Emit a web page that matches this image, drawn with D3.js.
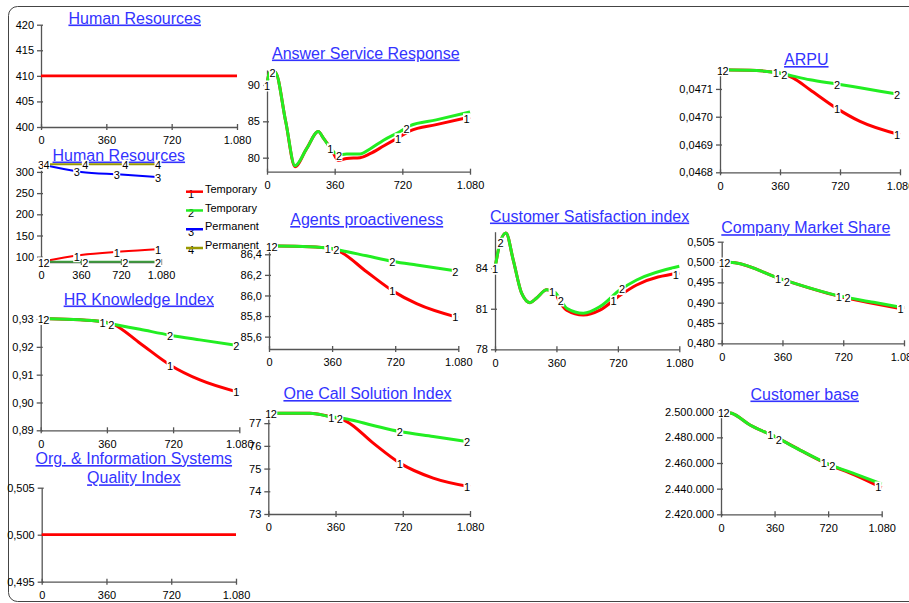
<!DOCTYPE html>
<html>
<head>
<meta charset="utf-8">
<script src="https://cdn.jsdelivr.net/npm/d3@7"></script>
<style>
  body { margin: 0; background: #fff; }
  text { font-family: "Liberation Sans", Arial, sans-serif; }
</style>
</head>
<body>
<svg id="chart" width="909" height="603"></svg>
<script>
// ---- data (days on x) ----
const xTicks = [0, 360, 720, 1080];

// Human Resources (total)
const hr1Days = [0, 1080];
const hr1Total = [410, 410];
const hr1YTicks = [400, 405, 410, 415, 420];

// Human Resources (by type)
const hr2Days = [0, 360, 720, 1080];
const hr2Temp1 = [88, 104, 112, 118];
const hr2Temp2 = [88, 88, 88, 88];
const hr2Perm3 = [318, 300, 294, 287];
const hr2Perm4 = [318, 318, 318, 318];
const hr2Names = ["Temporary", "Temporary", "Permanent", "Permanent"];
const hr2YTicks = [100, 150, 200, 250, 300];

// Answer Service Response
const asrDays = [0, 12, 43, 100, 149, 210, 273, 300, 344, 380, 424, 495, 548, 620, 708, 761, 900, 1080];
const asr1 = [90.0, 91.7, 91.8, 84.9, 78.75, 81.2, 83.6, 82.7, 81.1, 79.6, 79.9, 80.0, 80.55, 81.6, 82.9, 83.7, 84.55, 85.6];
const asr2 = [90.0, 91.7, 91.8, 84.9, 78.9, 81.2, 83.6, 82.7, 81.1, 80.4, 80.5, 80.5, 81.2, 82.4, 83.6, 84.4, 85.2, 86.3];
const asrYTicks = [80, 85, 90];

// ARPU
const arpuDays = [0, 220, 360, 440, 540, 700, 840, 1080];
const arpu1 = [0.047169, 0.047166, 0.047157, 0.047139, 0.047097, 0.04703, 0.046983, 0.046935];
const arpu2 = [0.047169, 0.047166, 0.047157, 0.047146, 0.047133, 0.047118, 0.047104, 0.04708];
const arpuYTicks = [0.0468, 0.0469, 0.0470, 0.0471];

// Agents proactiveness
const agDays = [0, 328, 405, 557, 710, 842, 1080];
const ag1 = [86.483, 86.464, 86.425, 86.23, 86.04, 85.92, 85.785];
const ag2 = [86.483, 86.464, 86.44, 86.385, 86.33, 86.295, 86.235];
const agYTicks = [85.6, 85.8, 86.0, 86.2, 86.4];

// Customer Satisfaction index
const csiDays = [0, 29, 64, 107, 156, 205, 244, 303, 352, 371, 420, 518, 615, 733, 830, 1080];
const csi1 = [84.0, 85.85, 86.6, 84.6, 82.15, 81.45, 81.8, 82.4, 82.2, 81.7, 80.9, 80.54, 80.9, 82.0, 82.76, 83.65];
const csi2 = [84.0, 85.85, 86.6, 84.6, 82.15, 81.45, 81.8, 82.4, 82.2, 81.9, 81.04, 80.67, 81.16, 82.4, 83.13, 84.15];
const csiYTicks = [78, 81, 84];

// Company Market Share
const cmsDays = [0, 79, 345, 701, 900, 1080];
const cms1 = [0.5, 0.4998, 0.4959, 0.4915, 0.4898, 0.4884];
const cms2 = [0.5, 0.4998, 0.4959, 0.4916, 0.4901, 0.4887];
const cmsYTicks = [0.480, 0.485, 0.490, 0.495, 0.500, 0.505];

// HR Knowledge Index
const hrkDays = [0, 305, 395, 540, 703, 866, 1080];
const hrk1 = [0.9302, 0.9293, 0.9281, 0.9213, 0.9135, 0.9081, 0.9036];
const hrk2 = [0.9302, 0.9293, 0.9281, 0.9263, 0.9242, 0.9225, 0.9204];
const hrkYTicks = [0.89, 0.90, 0.91, 0.92, 0.93];

// One Call Solution Index
const ocDays = [0, 223, 330, 420, 562, 705, 883, 1080];
const oc1 = [77.44, 77.44, 77.29, 77.07, 76.12, 75.24, 74.58, 74.2];
const oc2 = [77.44, 77.44, 77.29, 77.18, 76.9, 76.63, 76.41, 76.17];
const ocYTicks = [73, 74, 75, 76, 77];

// Customer base
const cbDays = [0, 72, 195, 363, 531, 710, 900, 1080];
const cb1 = [2500000, 2498750, 2489600, 2480500, 2470100, 2459500, 2450600, 2440800];
const cb2 = [2500000, 2498750, 2489600, 2480500, 2470100, 2459750, 2451500, 2443600];
const cbYTicks = [2420000, 2440000, 2460000, 2480000, 2500000];

// Org. & Information Systems Quality Index
const oisDays = [0, 1080];
const ois1 = [0.5, 0.5];
const oisYTicks = [0.495, 0.500, 0.505];

// ---- layout ----
const RED = "#ff0000", GREEN = "#22ee22", BLUE = "#0000ff", OLIVE = "#999900";
const loc = d3.formatLocale({decimal: ",", thousands: ".", grouping: [3], currency: ["", ""]});

const panels = [
  {title: ["Human Resources"], tx: 134.7, ty: 23.5, x0: 41, x1: 237, yb: 127, yt: 24.7,
   dom: [400, 420], yTicks: hr1YTicks, fmt: "d", days: hr1Days, lw: 2.7, labels: false,
   series: [{v: hr1Total, c: RED}]},
  {title: ["Human Resources"], tx: 118.8, ty: 160.5, x0: 41, x1: 161, yb: 262, yt: 163,
   dom: [87.5, 321], yTicks: hr2YTicks, fmt: "d", days: hr2Days, lw: 2, labels: true,
   series: [{v: hr2Temp1, c: RED}, {v: hr2Temp2, c: "#3c9c3c"}, {v: hr2Perm3, c: BLUE}, {v: hr2Perm4, c: OLIVE}]},
  {title: ["Answer Service Response"], tx: 365.8, ty: 58.5, x0: 267, x1: 470, yb: 171.7, yt: 70,
   dom: [78.07, 92.06], yTicks: asrYTicks, fmt: "d", days: asrDays, lw: 3, labels: true,
   series: [{v: asr1, c: RED}, {v: asr2, c: GREEN}]},
  {title: ["ARPU"], tx: 806.3, ty: 65, x0: 720, x1: 900, yb: 172.3, yt: 66.7,
   dom: [0.0468, 0.04718], yTicks: arpuYTicks, fmt: ".4f", days: arpuDays, lw: 3, labels: true,
   series: [{v: arpu1, c: RED}, {v: arpu2, c: GREEN}]},
  {title: ["Agents proactiveness"], tx: 366.7, ty: 225, x0: 269, x1: 458.3, yb: 349, yt: 244,
   dom: [85.48, 86.5], yTicks: agYTicks, fmt: ".1f", days: agDays, lw: 3, labels: true,
   series: [{v: ag1, c: RED}, {v: ag2, c: GREEN}]},
  {title: ["Customer Satisfaction index"], tx: 589.6, ty: 221.5, x0: 495, x1: 679.3, yb: 349.3, yt: 231.7,
   dom: [78, 86.7], yTicks: csiYTicks, fmt: "d", days: csiDays, lw: 3, labels: true,
   series: [{v: csi1, c: RED}, {v: csi2, c: GREEN}]},
  {title: ["Company Market Share"], tx: 805.8, ty: 233.2, x0: 721.7, x1: 904, yb: 343.3, yt: 241.7,
   dom: [0.48, 0.505], yTicks: cmsYTicks, fmt: ".3f", days: cmsDays, lw: 3, labels: true,
   series: [{v: cms1, c: RED}, {v: cms2, c: GREEN}]},
  {title: ["HR Knowledge Index"], tx: 138.8, ty: 304.5, x0: 40.7, x1: 239.3, yb: 430.3, yt: 316.8,
   dom: [0.89, 0.9308], yTicks: hrkYTicks, fmt: ".2f", days: hrkDays, lw: 3, labels: true,
   series: [{v: hrk1, c: RED}, {v: hrk2, c: GREEN}]},
  {title: ["One Call Solution Index"], tx: 367.5, ty: 399, x0: 268.3, x1: 470, yb: 514, yt: 408.4,
   dom: [73, 77.65], yTicks: ocYTicks, fmt: "d", days: ocDays, lw: 3, labels: true,
   series: [{v: oc1, c: RED}, {v: oc2, c: GREEN}]},
  {title: ["Customer base"], tx: 804.7, ty: 399.5, x0: 721, x1: 881.7, yb: 514.3, yt: 409.4,
   dom: [2420000, 2501800], yTicks: cbYTicks, fmt: ",d", days: cbDays, lw: 3, labels: true,
   series: [{v: cb1, c: RED}, {v: cb2, c: GREEN}]},
  {title: ["Org. & Information Systems", "Quality Index"], tx: 133.8, ty: 464, x0: 41.7, x1: 236, yb: 581.7, yt: 487.7,
   dom: [0.495, 0.505], yTicks: oisYTicks, fmt: ".3f", days: oisDays, lw: 2.7, labels: false,
   series: [{v: ois1, c: RED}]}
];

const svg = d3.select("#chart");

// outer frame
svg.append("rect")
  .attr("x", 8.5).attr("y", 6.5).attr("width", 960).attr("height", 595).attr("rx", 9)
  .attr("fill", "none").attr("stroke", "#444").attr("stroke-width", 1);

function valueAt(days, vals, d) {
  if (d <= days[0]) return vals[0];
  if (d >= days[days.length - 1]) return vals[vals.length - 1];
  const i = d3.bisectRight(days, d);
  const t = (d - days[i - 1]) / (days[i] - days[i - 1]);
  return vals[i - 1] + t * (vals[i] - vals[i - 1]);
}

panels.forEach(function(p) {
  const x = d3.scaleLinear().domain([0, 1080]).range([p.x0, p.x1]);
  const y = d3.scaleLinear().domain(p.dom).range([p.yb, p.yt]);
  const g = svg.append("g");

  // title
  const t = g.append("text")
    .attr("x", p.tx).attr("y", p.ty)
    .attr("text-anchor", "middle")
    .attr("font-size", 16)
    .attr("fill", "#3333ff")
    .style("text-decoration", "underline");
  p.title.forEach(function(s, i) {
    t.append("tspan").attr("x", p.tx).attr("dy", i ? 19.3 : 0).text(s);
  });

  // axes
  const ya = g.append("g")
    .attr("transform", "translate(" + p.x0 + ",0)")
    .call(d3.axisLeft(y).tickValues(p.yTicks).tickSizeInner(4).tickSizeOuter(0)
      .tickPadding(3).tickFormat(loc.format(p.fmt)));
  ya.selectAll(".tick line").attr("x1", 2);

  const xa = g.append("g")
    .attr("transform", "translate(0," + p.yb + ")")
    .call(d3.axisBottom(x).tickValues(xTicks).tickSizeInner(3).tickSizeOuter(0)
      .tickPadding(6.5).tickFormat(loc.format(",d")));
  xa.selectAll(".tick line").attr("y1", -3);

  [ya, xa].forEach(function(a) {
    a.attr("color", "#555").attr("font-size", 11)
      .attr("font-family", "'Liberation Sans', Arial, sans-serif");
    a.selectAll("path, line").attr("stroke-width", 1.3);
    a.selectAll("text").attr("fill", "#000");
  });

  // series lines
  const line = d3.line()
    .x(function(d) { return x(d[0]); })
    .y(function(d) { return y(d[1]); })
    .curve(d3.curveMonotoneX);

  p.series.forEach(function(s) {
    g.append("path")
      .datum(p.days.map(function(d, i) { return [d, s.v[i]]; }))
      .attr("d", line)
      .attr("fill", "none")
      .attr("stroke", s.c)
      .attr("stroke-width", p.lw)
      .attr("stroke-linejoin", "round");
  });

  // numbered series markers
  if (!p.labels) return;
  xTicks.forEach(function(d) {
    const ys = p.series.map(function(s) { return y(valueAt(p.days, s.v, d)); });
    p.series.forEach(function(s, i) {
      const prev = ys.some(function(v, j) { return j < i && Math.abs(v - ys[i]) < 12; });
      const next = ys.some(function(v, j) { return j > i && Math.abs(v - ys[i]) < 12; });
      let dx;
      if (prev) {
        if (d === 1080) return;
        dx = d === 0 ? 5.5 : 4.3;
      } else if (next) {
        dx = d === 0 ? 0 : (d === 1080 ? -3.5 : -4.3);
      } else {
        dx = d === 0 ? 0 : -3;
      }
      const px = x(d) + dx;
      const py = y(valueAt(p.days, s.v, Math.max(0, x.invert(px))));
      g.append("rect")
        .attr("x", px - 3.5).attr("y", py - 4.5)
        .attr("width", 7).attr("height", 11)
        .attr("fill", "#fff");
      g.append("text")
        .attr("x", px).attr("y", py + 1)
        .attr("dy", "0.35em")
        .attr("text-anchor", "middle")
        .attr("font-size", 11)
        .attr("fill", "#000")
        .text(i + 1);
    });
  });
});

// legend for the second Human Resources panel
const legendColors = [RED, GREEN, BLUE, OLIVE];
const legendRows = d3.scaleLinear().domain([0, 3]).range([191.7, 248]);
const legend = svg.append("g");
hr2Names.forEach(function(name, i) {
  const ly = legendRows(i);
  legend.append("text")
    .attr("x", 191).attr("y", ly + 2.5).attr("dy", "0.35em")
    .attr("text-anchor", "middle").attr("font-size", 11).attr("fill", "#000")
    .text(i + 1);
  legend.append("line")
    .attr("x1", 186).attr("x2", 203).attr("y1", ly).attr("y2", ly)
    .attr("stroke", legendColors[i]).attr("stroke-width", 2.5);
  legend.append("text")
    .attr("x", 205).attr("y", ly - 2.7).attr("dy", "0.35em")
    .attr("font-size", 11).attr("fill", "#000")
    .text(name);
});
</script>
</body>
</html>
